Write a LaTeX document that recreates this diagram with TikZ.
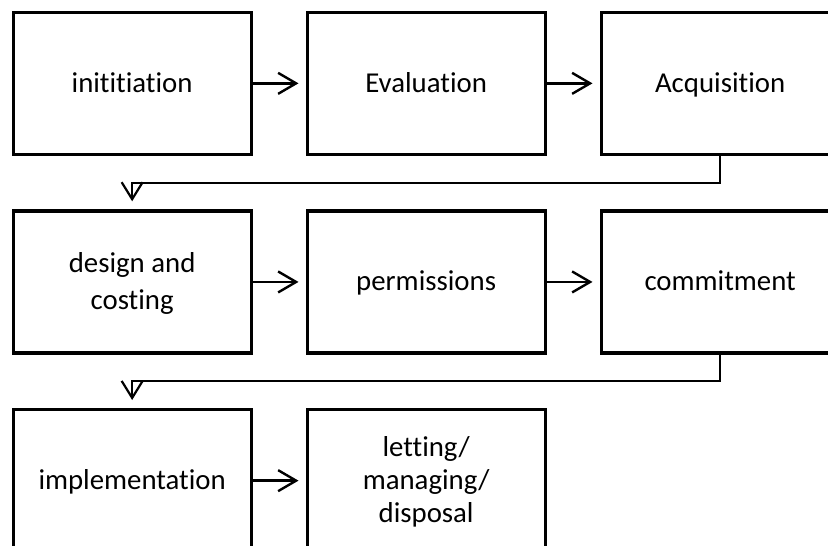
\documentclass[tikz,border=0pt]{standalone}
\usepackage{fontspec}
\setmainfont[Ligatures={NoCommon}]{Carlito}
\usetikzlibrary{arrows.meta,calc}
\newcommand{\boxstrut}{\rule[-0.3em]{0pt}{1.225em}}
\begin{document}
\begin{tikzpicture}[x=1pt,y=-1pt,
  stagebox/.style={draw=black,line width=3.3pt,minimum width=238pt,minimum height=142pt,
    inner sep=0pt,align=center,font=\fontsize{28.8}{33}\selectfont,anchor=north west},
  flow/.style={line width=2.4pt,-{Straight Barb[length=18pt,width=21pt,line width=2.4pt]},shorten >=7pt},
  wrap/.style={line width=1.8pt,-{Straight Barb[length=17pt,width=21pt,line width=2.2pt]},shorten >=8pt}]
\useasboundingbox (0,0) rectangle (828,546);
\node[stagebox] (ini) at (11.5,10.7) {\boxstrut inititiation};
\node[stagebox] (eva) at (305.5,10.7) {\boxstrut Evaluation};
\node[stagebox] (acq) at (599.5,10.7) {\boxstrut Acquisition};
\node[stagebox] (des) at (11.5,209.3) {\boxstrut design and\\costing\boxstrut};
\node[stagebox] (per) at (305.5,209.3) {\boxstrut permissions};
\node[stagebox] (com) at (599.5,209.3) {\boxstrut commitment};
\node[stagebox] (imp) at (11.5,408) {\boxstrut implementation};
\node[stagebox] (let) at (305.5,408) {\boxstrut letting/\\managing/\\disposal\boxstrut};
\draw[flow] (ini.east) -- (eva.west);
\draw[flow] (eva.east) -- (acq.west);
\draw[flow] (des.east) -- (per.west);
\draw[flow] (per.east) -- (com.west);
\draw[flow] (imp.east) -- (let.west);
\coordinate (m1) at ($(acq.south)!0.5!(des.north)$);
\coordinate (m2) at ($(com.south)!0.5!(imp.north)$);
\draw[wrap] (acq.south) |- (m1) -| (des.north);
\draw[wrap] (com.south) |- (m2) -| (imp.north);
\end{tikzpicture}
\end{document}
